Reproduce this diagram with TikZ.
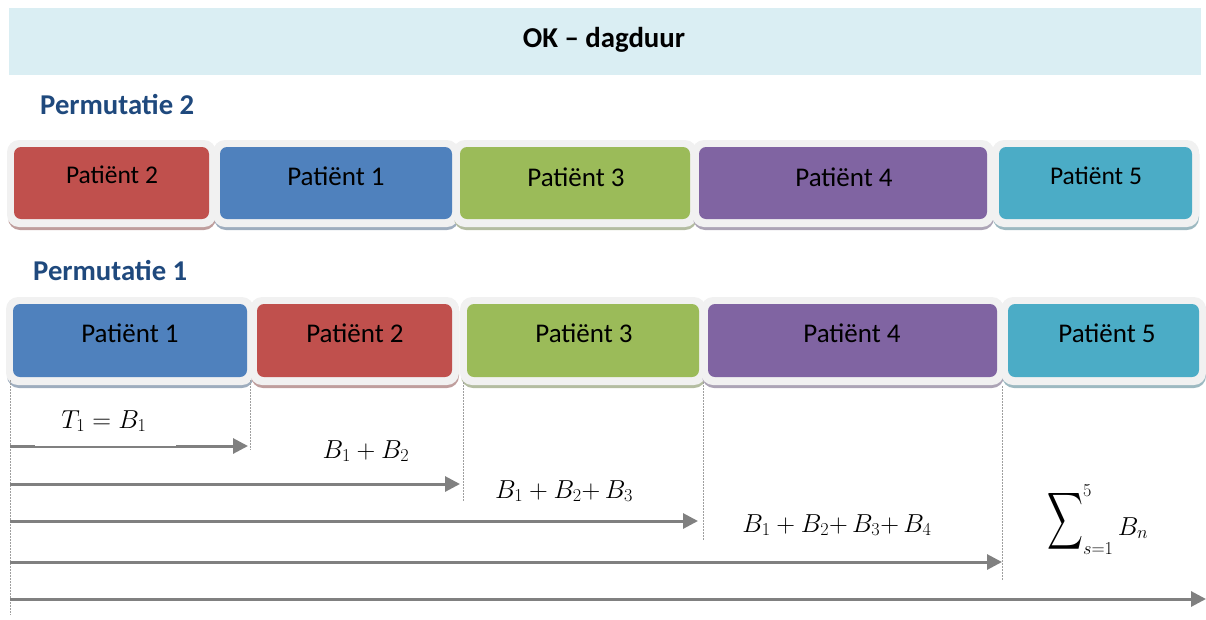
\documentclass[tikz,border=0pt]{standalone}
\usepackage{fix-cm}
\usepackage{exscale}
\usepackage[no-math]{fontspec}
\setmainfont{Carlito}
\usepackage{graphicx}
\usetikzlibrary{arrows.meta}
\definecolor{hdrblue}{HTML}{DAEEF3}
\definecolor{permblue}{HTML}{1F497D}
\definecolor{pred}{HTML}{C0504D}
\definecolor{pblue}{HTML}{4F81BD}
\definecolor{pgreen}{HTML}{9BBB59}
\definecolor{ppurple}{HTML}{8064A2}
\definecolor{pteal}{HTML}{4BACC6}
\definecolor{framegray}{HTML}{F1F1F1}
\definecolor{arrgray}{HTML}{808080}
\newcommand{\patcell}[6]{%
  \fill[#6!45!gray!65!white, rounded corners=12pt] (#2-6,#4-5) rectangle (#3+7,#5+11);
  \fill[framegray, rounded corners=12pt] (#2-7,#4-7) rectangle (#3+7,#5+8);
  \node[patbox, fill=#6, minimum width={(#3-#2)*1pt}, minimum height={(#5-#4)*1pt}] (#1) at ({(#2+#3)/2},{(#4+#5)/2}) {};
}
\begin{document}
\begin{tikzpicture}[x=1pt,y=-1pt,
  patbox/.style={rectangle, rounded corners=7pt, inner sep=0pt, outer sep=0pt, draw=none},
  pattext/.style={font=\fontsize{27}{31}\selectfont, anchor=base, inner sep=0pt, text=black},
  smalltext/.style={pattext, font=\fontsize{25.5}{30}\selectfont},
  permlabel/.style={font=\fontsize{28.7}{33}\selectfont\bfseries, text=permblue, anchor=base west, inner sep=0pt},
  arr/.style={draw=arrgray, line width=3pt, -{Triangle[length=15pt,width=15pt]}},
  guide/.style={draw=gray!75, line width=1pt, dash pattern=on 1.5pt off 1.5pt},
  mathlbl/.style={font=\fontsize{26}{30}\selectfont, anchor=base, inner sep=0pt}]

\useasboundingbox (0,0) rectangle (1206,619);

% header
\node[fill=hdrblue, minimum width=1192pt, minimum height=67pt, inner sep=0pt] (hdr) at (605,41.5) {};
\node[font=\fontsize{28.8}{33}\selectfont\bfseries, anchor=base, inner sep=0pt] (hdrtext) at (604,47.3) {OK – dagduur};

% labels
\node[permlabel] (perm2) at (40,114) {Permutatie 2};
\node[permlabel] (perm1) at (33,280) {Permutatie 1};

% permutation 2
\patcell{qa}{14}{209}{147}{219}{pred}
\patcell{qb}{220}{452}{147}{219}{pblue}
\patcell{qc}{460}{690}{147}{219}{pgreen}
\patcell{qd}{699}{987}{147}{219}{ppurple}
\patcell{qe}{999}{1192}{147}{219}{pteal}
\node[smalltext] (qat) at (112,183.5) {Patiënt 2};
\node[pattext] (qbt) at (336,185.5) {Patiënt 1};
\node[pattext] (qct) at (576,186) {Patiënt 3};
\node[pattext] (qdt) at (844,186) {Patiënt 4};
\node[smalltext] (qet) at (1096,184) {Patiënt 5};

% permutation 1
\patcell{pa}{13}{247}{304}{377}{pblue}
\patcell{pb}{257}{452}{304}{377}{pred}
\patcell{pc}{467}{699}{304}{377}{pgreen}
\patcell{pd}{708}{997}{304}{377}{ppurple}
\patcell{pe}{1008}{1199}{304}{377}{pteal}
\node[pattext] (pat) at (130,342) {Patiënt 1};
\node[pattext] (pbt) at (355,342) {Patiënt 2};
\node[pattext] (pct) at (584,342) {Patiënt 3};
\node[pattext] (pdt) at (852,342) {Patiënt 4};
\node[pattext] (pet) at (1107,342) {Patiënt 5};

% guides
\coordinate (g0a) at (10,380);  \coordinate (g0b) at (10,615);
\coordinate (g1a) at (250,380); \coordinate (g1b) at (250,450);
\coordinate (g2a) at (463,382); \coordinate (g2b) at (463,502);
\coordinate (g3a) at (703,382); \coordinate (g3b) at (703,540);
\coordinate (g4a) at (1002,386); \coordinate (g4b) at (1002,580);
\draw[guide] (g0a) -- (g0b);
\draw[guide] (g1a) -- (g1b);
\draw[guide] (g2a) -- (g2b);
\draw[guide] (g3a) -- (g3b);
\draw[guide] (g4a) -- (g4b);

% arrows
\coordinate (s1) at (10,446); \coordinate (e1) at (248,446);
\coordinate (s2) at (10,484); \coordinate (e2) at (460,484);
\coordinate (s3) at (10,521); \coordinate (e3) at (698,521);
\coordinate (s4) at (10,562); \coordinate (e4) at (1002,562);
\coordinate (s5) at (10,599); \coordinate (e5) at (1206,599);
\draw[arr] (s1) -- (e1);
\draw[arr] (s2) -- (e2);
\draw[arr] (s3) -- (e3);
\draw[arr] (s4) -- (e4);
\draw[arr] (s5) -- (e5);
\fill[white] (35,400) rectangle (176,445.6);

% math labels
\node[mathlbl] (m1) at (104,428) {$T_1 = B_1$};
\node[mathlbl] (m2) at (366,458) {$B_1 + B_2$};
\node[mathlbl] (m3) at (564,498) {$B_1 + B_2{+}\,B_3$};
\node[mathlbl] (m4) at (837,532) {$B_1 + B_2{+}\,B_3{+}\,B_4$};
\node[mathlbl, anchor=base west] (m5) at (1047,535) {$\mathop{\raisebox{7pt}{$\vcenter{\hbox{\scalebox{1}[1.6]{$\displaystyle\sum$}}}$}}\nolimits_{s=1}^{5} B_n$};
\end{tikzpicture}
\end{document}
